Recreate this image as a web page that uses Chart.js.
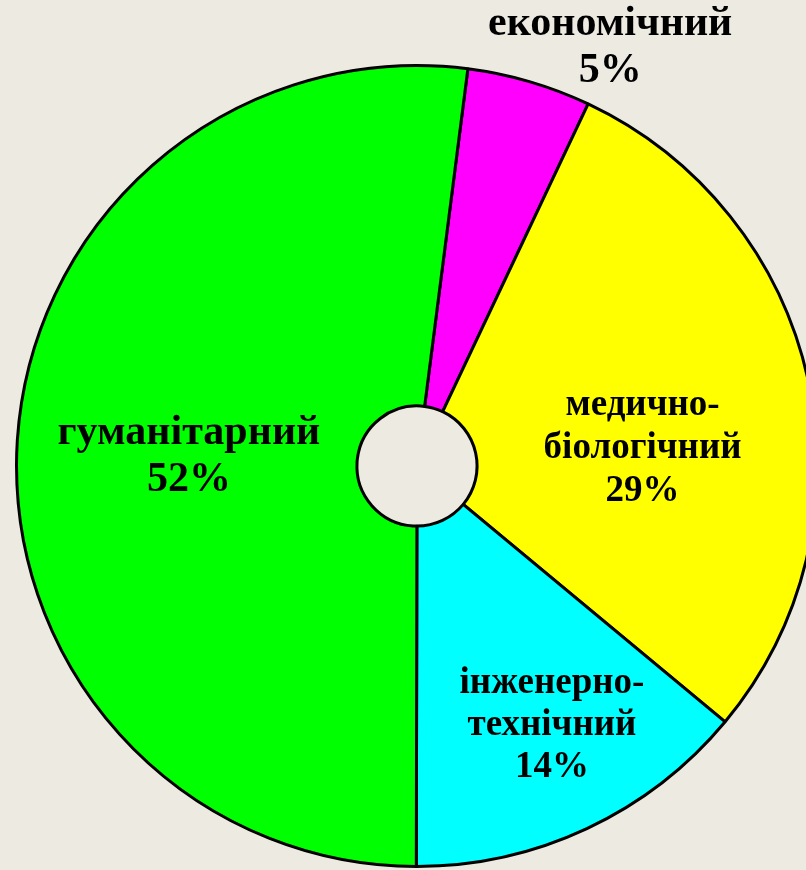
<!DOCTYPE html>
<html lang="uk">
<head>
<meta charset="UTF-8">
<title>Профілі</title>
<script src="https://cdn.jsdelivr.net/npm/chart.js@4.4.0/dist/chart.umd.min.js"></script>
<style>
  html, body { margin: 0; padding: 0; background: #EDEBE1; overflow: hidden; }
  #wrap { width: 834px; height: 870px; }
</style>
</head>
<body>
<div id="wrap"><canvas id="myChart" width="834" height="870"></canvas></div>
<script>
// data
const categories = ['економічний', 'медично-біологічний', 'інженерно-технічний', 'гуманітарний'];
const labelLines = [['економічний'], ['медично-', 'біологічний'], ['інженерно-', 'технічний'], ['гуманітарний']];
const percents = [5, 29, 14, 52];
const sliceColors = ['#FF00FF', '#FFFF00', '#00FFFF', '#00FF00'];

// where each label sits: angle from 12 o'clock (deg), distance as part of the radius, font size
const labelPlace = [
  { ang: 24.8, r: 1.15, size: 42, lh: 47 },
  { ang: 85.5, r: 0.565, size: 37, lh: 43 },
  { ang: 152.5, r: 0.73, size: 37, lh: 42 },
  { ang: 272.3, r: 0.57, size: 42, lh: 47 }
];

const sliceLabels = {
  id: 'sliceLabels',
  afterDraw(chart) {
    const ctx = chart.ctx;
    const arcs = chart.getDatasetMeta(0).data;
    ctx.save();
    ctx.fillStyle = '#000';
    ctx.textAlign = 'center';
    ctx.textBaseline = 'middle';
    arcs.forEach((arc, i) => {
      const p = labelPlace[i];
      const a = (p.ang - 90) * Math.PI / 180;
      const cx = arc.x + Math.cos(a) * arc.outerRadius * p.r;
      const cy = arc.y + Math.sin(a) * arc.outerRadius * p.r;
      const lines = labelLines[i].concat([percents[i] + '%']);
      ctx.font = 'bold ' + p.size + 'px "Liberation Serif", "Times New Roman", serif';
      lines.forEach((t, k) => {
        ctx.fillText(t, cx, cy + (k - (lines.length - 1) / 2) * p.lh);
      });
    });
    ctx.restore();
  }
};

new Chart(document.getElementById('myChart'), {
  type: 'doughnut',
  data: {
    labels: categories,
    datasets: [{
      data: percents,
      backgroundColor: sliceColors,
      borderColor: '#000',
      borderWidth: 3,
      borderAlign: 'center'
    }]
  },
  options: {
    responsive: false,
    animation: false,
    cutout: '15%',
    rotation: 7.3,
    layout: { padding: { top: 64, bottom: 2 } },
    plugins: {
      legend: { display: false },
      tooltip: { enabled: false }
    }
  },
  plugins: [sliceLabels]
});
</script>
</body>
</html>
